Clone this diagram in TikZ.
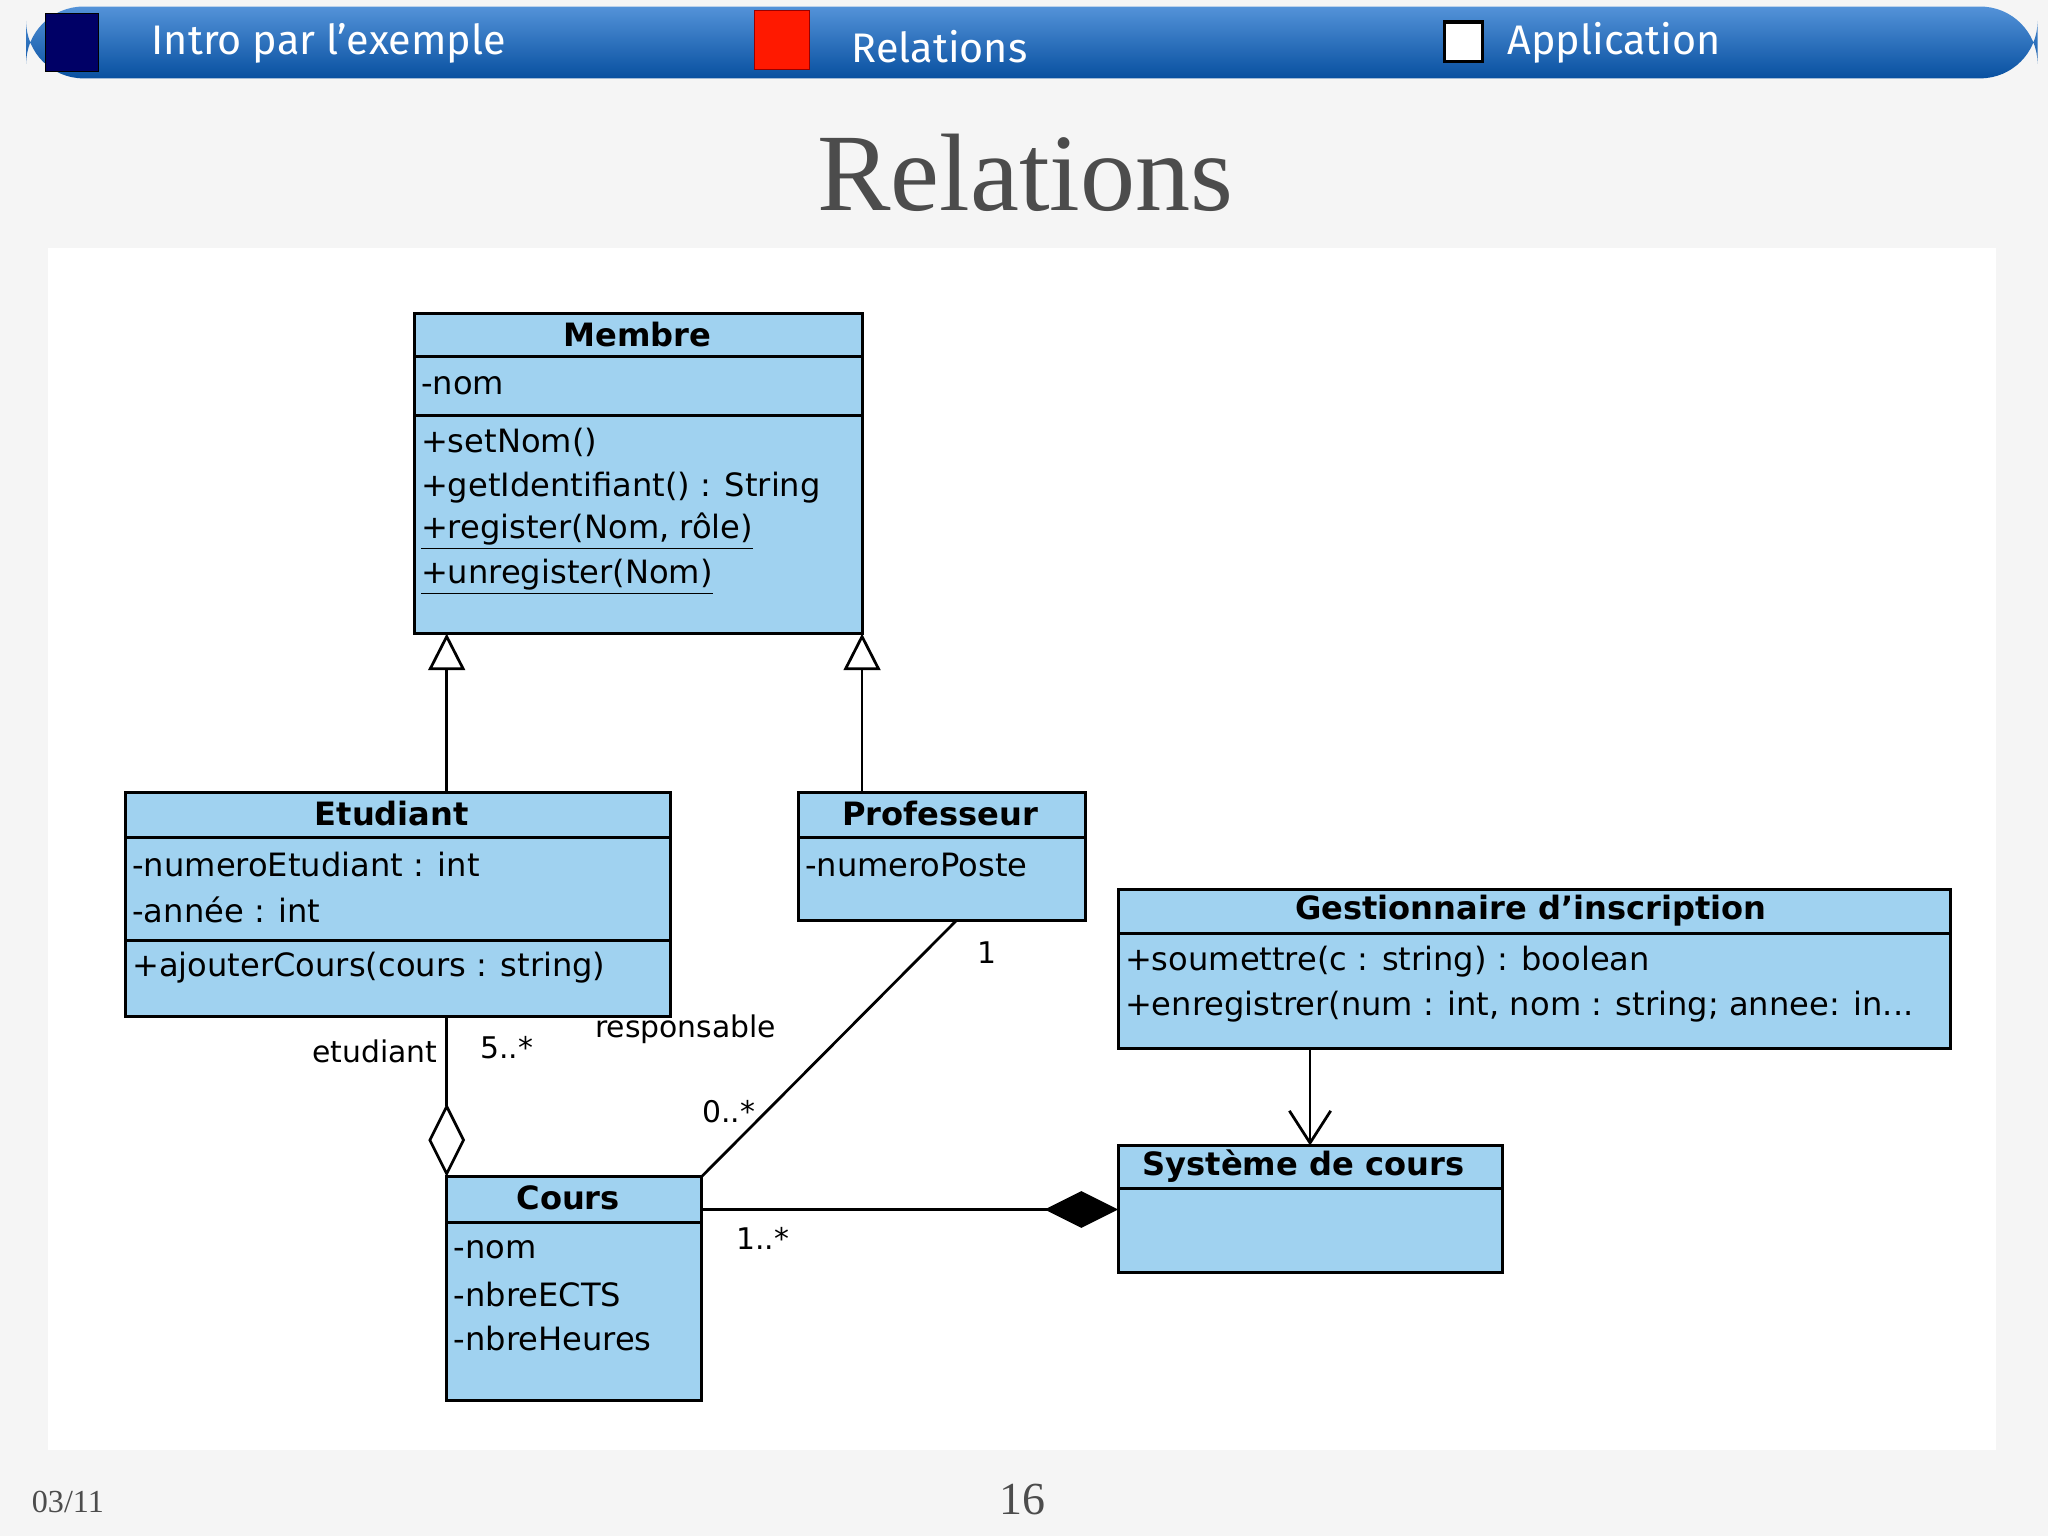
\documentclass[tikz,border=0pt]{standalone}
\usepackage{fontspec}
\setmainfont{DejaVu Sans}
\newfontfamily\hdr{Fira Sans}
\newfontfamily\ttl{Liberation Serif}
\usetikzlibrary{arrows.meta}
\definecolor{umlfill}{RGB}{160,210,240}
\definecolor{bar}{RGB}{10,100,200}
\begin{document}
\begin{tikzpicture}[x=0.02cm,y=-0.02cm,
  box/.style={draw=black,line width=1.3pt,fill=umlfill},
  sep/.style={line width=1.3pt},
  cls/.style={font=\fontsize{14}{16}\selectfont\bfseries,inner sep=0pt},
  mem/.style={font=\fontsize{14}{16}\selectfont,anchor=west,inner sep=0pt},
  lab/.style={font=\fontsize{13}{15}\selectfont,inner sep=0pt},
  gen/.style={line width=1.2pt,-{Triangle[open,length=16pt,width=16pt]}},
  agg/.style={line width=1.2pt,-{Diamond[open,length=32pt,width=16pt]}},
  comp/.style={line width=1.2pt,-{Diamond[fill=black,length=32pt,width=16pt]}},
  dep/.style={line width=1.2pt,-{Straight Barb[length=14pt,width=18pt]}}]
\useasboundingbox (0,0) rectangle (1568,1176);
\fill[gray!8] (0,0) rectangle (1568,1176);
% header
\shade[top color=bar!70!white,bottom color=bar!80!black,rounded corners=25] (20,5) rectangle (1560,60);
\fill[blue!40!black,draw=black] (35,10) rectangle (75,55);
\fill[red!80!orange,draw=red!60!black] (578,8) rectangle (620,53);
\fill[white,draw=black,line width=1.5pt] (1106,17) rectangle (1135,47);
\node[text=white,anchor=west,font=\hdr\fontsize{18}{20}\selectfont] (h1) at (110,33) {Intro par l’exemple};
\node[text=white,anchor=west,font=\hdr\fontsize{18}{20}\selectfont] (h2) at (646,36) {Relations};
\node[text=white,anchor=west,font=\hdr\fontsize{18}{20}\selectfont] (h3) at (1148,33) {Application};
\node[font=\ttl\fontsize{48}{50}\selectfont,text=black!70] (title) at (785,132) {Relations};
\fill[white] (37,190) rectangle (1528,1110);
% Membre
\draw[box] (317,240) rectangle (660,485);
\draw[sep] (317,273)--(660,273) (317,318)--(660,318);
\node[cls] (membre) at (488,256) {Membre};
\node[mem] at (322,295) {-nom};
\node[mem] at (322,339) {+setNom()};
\node[mem] at (322,373) {+getIdentifiant() : String};
\node[mem] at (322,407) {\underline{+register(Nom, rôle)}};
\node[mem] at (322,442) {\underline{+unregister(Nom)}};
% Etudiant
\draw[box] (96,607) rectangle (513,778);
\draw[sep] (96,641)--(513,641) (96,720)--(513,720);
\node[cls] at (300,623) {Etudiant};
\node[mem] at (101,662) {-numeroEtudiant : int};
\node[mem] at (101,697) {-année : int};
\node[mem] at (101,741) {+ajouterCours(cours : string)};
% Professeur
\draw[box] (611,607) rectangle (831,705);
\draw[sep] (611,641)--(831,641);
\node[cls] at (720,623) {Professeur};
\node[mem] at (616,662) {-numeroPoste};
% Gestionnaire
\draw[box] (856,681) rectangle (1493,803);
\draw[sep] (856,715)--(1493,715);
\node[cls] at (1172,697) {Gestionnaire d'inscription};
\node[mem] at (861,736) {+soumettre(c : string) : boolean};
\node[mem] at (861,771) {+enregistrer(num : int, nom : string; annee: in...};
% Systeme
\draw[box] (856,877) rectangle (1150,974);
\draw[sep] (856,910)--(1150,910);
\node[cls] at (998,893) {Système de cours};
% Cours
\draw[box] (342,901) rectangle (537,1072);
\draw[sep] (342,936)--(537,936);
\node[cls] at (435,917) {Cours};
\node[mem] at (347,957) {-nom};
\node[mem] at (347,991) {-nbreECTS};
\node[mem] at (347,1025) {-nbreHeures};
% coordinates
\coordinate (et) at (342,607); \coordinate (mb1) at (342,485);
\coordinate (pt) at (660,607); \coordinate (mb2) at (660,485);
\coordinate (eb) at (342,778); \coordinate (ct) at (342,901);
\coordinate (cr) at (537,901); \coordinate (pb) at (732,705);
\coordinate (cm) at (537,926); \coordinate (sl) at (856,926);
\coordinate (gb) at (1003,803); \coordinate (st) at (1003,877);
\draw[gen] (et)--(mb1);
\draw[gen] (pt)--(mb2);
\draw[agg] (eb)--(ct);
\draw[line width=1.2pt] (cr)--(pb);
\draw[comp] (cm)--(sl);
\draw[dep] (gb)--(st);
\node[lab] at (287,805) {etudiant};
\node[lab] at (388,802) {5..*};
\node[lab] at (525,788) {responsable};
\node[lab] at (756,729) {1};
\node[lab] at (558,851) {0..*};
\node[lab] at (584,948) {1..*};
\node[font=\ttl\fontsize{14}{16}\selectfont,text=black!70] at (52,1150) {03/11};
\node[font=\ttl\fontsize{20}{22}\selectfont,text=black!70] at (783,1148) {16};
\end{tikzpicture}
\end{document}
